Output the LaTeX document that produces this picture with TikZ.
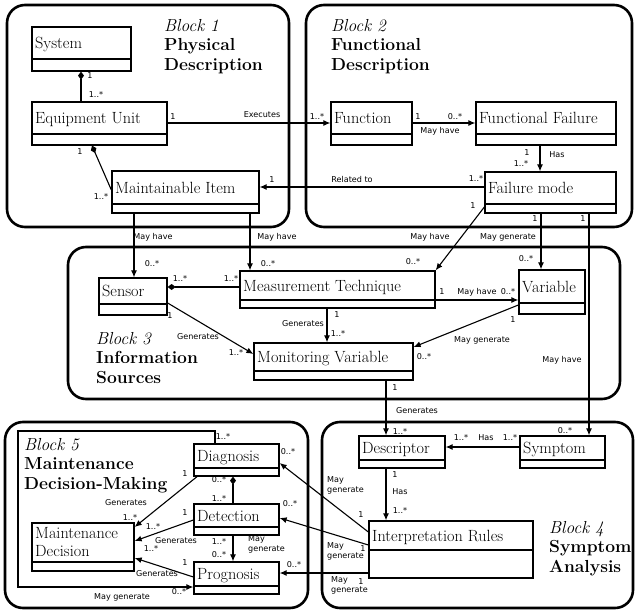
\documentclass[tikz,border=0pt]{standalone}
\usepackage{fontspec}
\newfontfamily\lblfont{DejaVu Sans}
\usetikzlibrary{arrows.meta}
\newcounter{lblc}
\newcommand\umlcls[7]{%
  \node[clsbox, minimum width={(#4-#2)*1bp}, minimum height={(#5-#3)*1bp}] (#1) at ({(#2+#4)/2},{(#3+#5)/2}) {};
  \draw[clsline] (#2,#6) -- (#4,#6);
  \node[clsname] (#1-t) at ({#2+3},{(#3+#6)/2+5.6}) {#7};}
\newcommand\lb[3]{\stepcounter{lblc}\node[lbl] (lb\number\value{lblc}) at (#1,#2) {#3};}
\newcommand\lbw[3]{\stepcounter{lblc}\node[lbl, anchor=north west, align=left] (lb\number\value{lblc}) at (#1,#2) {#3};}
\begin{document}
\begin{tikzpicture}[x=1bp,y=-1bp,
  blk/.style={draw, line width=2.6bp, rounded corners=18bp},
  clsbox/.style={draw, line width=1.3bp, inner sep=0pt},
  clsline/.style={line width=1.3bp},
  clsname/.style={inner sep=0pt, anchor=base west, font=\fontsize{16.3}{18}\selectfont},
  ttl/.style={anchor=north west, align=left, inner sep=0pt, font=\fontsize{17.5}{19.5}\selectfont},
  lbl/.style={inner sep=0pt, font=\lblfont\fontsize{8.1}{10.5}\selectfont},
  conn/.style={line width=1.1bp},
  arr/.style={conn, -{Latex[length=7bp,width=6bp]}},
  comp/.style={conn, {Diamond[length=8bp,width=6bp]}-},
]
\useasboundingbox[fill=white] (0,0) rectangle (635,613);

% blocks
\draw[blk] (7,5) rectangle (289,227);
\draw[blk] (306,5) rectangle (632,227);
\draw[blk] (68,247) rectangle (620,399);
\draw[blk] (5,422) rectangle (308,608);
\draw[blk] (322,422) rectangle (633,608);

% titles
\node[ttl] (t1) at (164,19) {\textit{Block 1}\\\textbf{Physical}\\\textbf{Description}};
\node[ttl] (t2) at (331,19) {\textit{Block 2}\\\textbf{Functional}\\\textbf{Description}};
\node[ttl] (t3) at (96,332) {\textit{Block 3}\\\textbf{Information}\\\textbf{Sources}};
\node[ttl] (t4) at (549,521) {\textit{Block 4}\\\textbf{Symptom}\\\textbf{Analysis}};
\node[ttl] (t5) at (24,438) {\textit{Block 5}\\\textbf{Maintenance}\\\textbf{Decision-Making}};

% classes
\umlcls{sys}{32}{27}{131}{71}{59}{System}
\umlcls{eu}{32}{102}{167}{145}{134}{Equipment Unit}
\umlcls{mi}{112}{171}{259}{213}{204}{Maintainable Item}
\umlcls{fn}{331}{102}{412}{145}{134}{Function}
\umlcls{ff}{476}{102}{616}{145}{134}{Functional Failure}
\umlcls{fm}{485}{172}{616}{213}{204}{Failure mode}
\umlcls{sen}{99}{278}{167}{315}{304}{Sensor}
\umlcls{mt}{240}{271}{435}{308}{300}{Measurement Technique}
\umlcls{var}{519}{270}{585}{314}{303}{Variable}
\umlcls{mv}{254}{343}{413}{380}{371}{Monitoring Variable}
\umlcls{desc}{359}{436}{445}{468}{460}{Descriptor}
\umlcls{sym}{520}{436}{605}{468}{460}{Symptom}
\umlcls{ir}{369}{521}{533}{578}{550}{Interpretation Rules}
\umlcls{diag}{194}{444}{279}{476}{468}{Diagnosis}
\umlcls{det}{194}{504}{279}{535}{527}{Detection}
\umlcls{prog}{194}{562}{279}{594}{586}{Prognosis}
\umlcls{md}{32}{523}{134}{571}{562}{}
\node[clsname, anchor=north west, align=left, font=\fontsize{16.3}{18}\selectfont] (md-t) at (35,527) {Maintenance\\Decision};

% connectors
\draw[comp] (81,0 |- sys.south) -- (81,0 |- eu.north);
\draw[comp] (92,0 |- eu.south) -- (mi.west |- 0,190);
\draw[arr] (eu.east |- 0,123) -- (fn.west |- 0,123);
\draw[arr] (fn.east |- 0,123) -- (ff.west |- 0,123);
\draw[arr] (540,0 |- ff.south) -- (540,0 |- fm.north);
\draw[arr] (fm.west |- 0,187) -- (mi.east |- 0,187);
\draw[arr] (134,0 |- mi.south) -- (134,0 |- sen.north);
\draw[arr] (250,0 |- mi.south) -- (250,0 |- mt.north);
\draw[arr] (fm.west |- 0,207) -- (mt.north east);
\draw[arr] (541,0 |- fm.south) -- (541,0 |- var.north);
\draw[arr] (589,0 |- fm.south) -- (589,0 |- sym.north);
\draw[comp] (sen.east |- 0,287) -- (mt.west |- 0,287);
\draw[arr] (sen.east |- 0,303) -- (mv.west |- 0,354);
\draw[arr] (327,0 |- mt.south) -- (327,0 |- mv.north);
\draw[arr] (mt.east |- 0,300) -- (var.west |- 0,300);
\draw[arr] (var.west |- 0,305) -- (mv.east |- 0,347);
\draw[arr] (386,0 |- mv.south) -- (386,0 |- desc.north);
\draw[arr] (sym.west |- 0,447) -- (desc.east |- 0,447);
\draw[arr] (386,0 |- desc.south) -- (386,0 |- ir.north);
\draw[arr] (ir.west |- 0,532) -- (diag.east |- 0,463);
\draw[arr] (ir.west |- 0,545) -- (det.east |- 0,518);
\draw[arr] (ir.west |- 0,573) -- (prog.east |- 0,573);
\draw[arr] (197,0 |- diag.south) -- (md.east |- 0,527);
\draw[arr] (det.west |- 0,520) -- (md.east |- 0,541);
\draw[arr] (prog.west |- 0,577) -- (md.east |- 0,558);
\draw[comp] (233,0 |- diag.south) -- (233,0 |- det.north);
\draw[arr] (233,0 |- det.south) -- (233,0 |- prog.north);
\draw[arr] (215,0 |- diag.north) -- (215,431) -- (18,431) -- (18,587) -- (prog.west |- 0,587);

% labels block 1/2
\lb{90}{76}{1}
\lb{96}{95}{1..*}
\lb{80}{152}{1}
\lb{101}{197}{1..*}
\lb{173}{117}{1}
\lb{262}{115}{Executes}
\lb{317}{117}{1..*}
\lb{418}{117}{1}
\lb{455}{117}{0..*}
\lb{440}{131}{May have}
\lb{527}{153}{1}
\lb{557}{155}{Has}
\lb{521}{164}{1..*}
\lb{272}{180}{1}
\lb{352}{179}{Related to}
\lb{476}{179}{1..*}
% block 3 area
\lb{153}{237}{May have}
\lb{152}{264}{0..*}
\lb{277}{237}{May have}
\lb{268}{264}{0..*}
\lb{473}{206}{1}
\lb{430}{237}{May have}
\lb{413}{262}{0..*}
\lb{535}{219}{1}
\lb{508}{237}{May generate}
\lb{526}{259}{0..*}
\lb{583}{219}{1}
\lb{562}{360}{May have}
\lb{565}{431}{0..*}
\lb{180}{279}{1..*}
\lb{231}{279}{1..*}
\lb{170}{316}{1}
\lb{198}{337}{Generates}
\lb{236}{353}{1..*}
\lb{337}{315}{1}
\lb{303}{324}{Generates}
\lb{338}{334}{1..*}
\lb{442}{292}{1}
\lb{477}{292}{May have}
\lb{508}{292}{0..*}
\lb{513}{320}{1}
\lb{482}{340}{May generate}
\lb{424}{357}{0..*}
\lb{395}{388}{1}
\lb{417}{411}{Generates}
\lb{400}{432}{1..*}
% block 4
\lb{461}{438}{1..*}
\lb{486}{438}{Has}
\lb{510}{438}{1..*}
\lb{395}{475}{1}
\lb{400}{492}{Has}
\lb{400}{510}{1..*}
\lbw{327}{476}{May\\generate}
\lb{361}{515}{1}
\lb{288}{452}{0..*}
\lbw{327}{542}{May\\generate}
\lb{363}{549}{1}
\lb{290}{504}{0..*}
\lbw{331}{576}{May\\generate}
\lb{361}{582}{1}
\lb{294}{565}{0..*}
% block 5
\lb{185}{474}{1}
\lb{126}{503}{Generates}
\lb{130}{517}{1..*}
\lb{185}{513}{1}
\lb{153}{526}{1..*}
\lb{176}{541}{Generates}
\lb{185}{563}{1}
\lb{151}{548}{1..*}
\lb{157}{574}{Generates}
\lb{219}{480}{0..*}
\lb{219}{499}{1..*}
\lb{219}{541}{1..*}
\lb{219}{555}{0..*}
\lbw{248}{535}{May\\generate}
\lb{223}{437}{1..*}
\lb{179}{592}{0..*}
\lb{122}{597}{May generate}
\end{tikzpicture}
\end{document}
